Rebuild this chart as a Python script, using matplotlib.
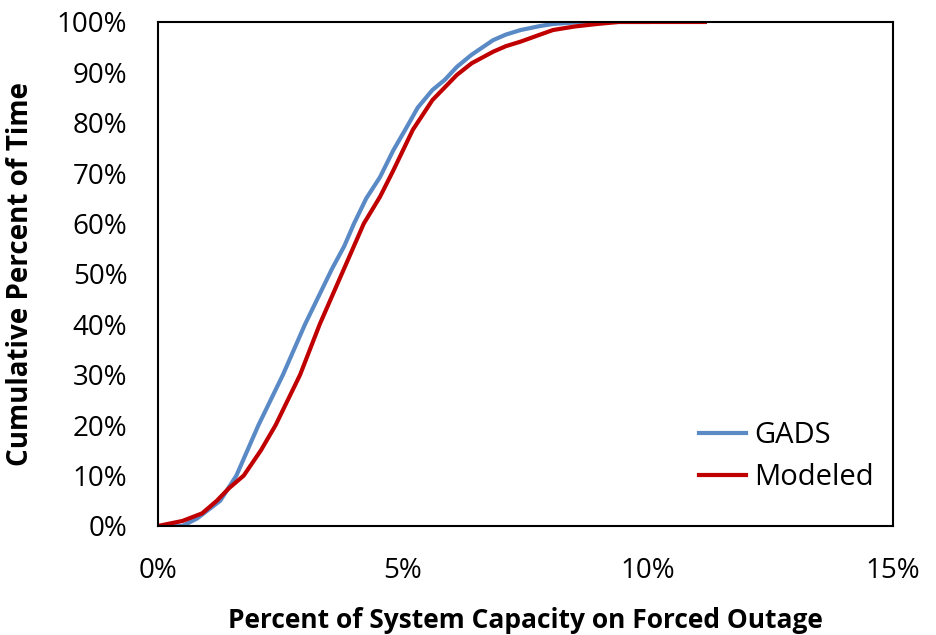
from matplotlib import pyplot as plt
from matplotlib.ticker import FuncFormatter

# GADS curve (percent of capacity out, cumulative percent of time)
gads_x = [0.0, 0.5, 0.8, 1.0, 1.27, 1.6, 2.05, 2.55, 3.0, 3.2, 3.55, 3.8, 4.0, 4.25,
          4.53, 4.8, 5.08, 5.3, 5.6, 5.85, 6.1, 6.4, 6.84, 7.1, 7.4, 7.8, 8.06, 8.5, 8.96, 10.0]
gads_y = [0.0, 0.0, 1.5, 3.0, 5.0, 10.0, 20.0, 30.0, 40.0, 44.0, 51.0, 55.5, 60.0, 65.0,
          69.2, 74.5, 79.2, 83.0, 86.5, 88.5, 91.1, 93.5, 96.4, 97.5, 98.4, 99.2, 99.6, 99.9, 100.0, 100.0]

# Modeled curve
model_x = [0.0, 0.5, 0.9, 1.2, 1.45, 1.75, 2.1, 2.4, 2.9, 3.3, 3.75, 4.2, 4.53, 4.8,
           5.2, 5.6, 6.1, 6.4, 6.84, 7.1, 7.4, 7.8, 8.06, 8.5, 8.96, 9.4, 10.0, 11.16]
model_y = [0.0, 1.0, 2.5, 5.0, 7.5, 10.0, 15.0, 20.0, 30.0, 40.0, 50.0, 60.0, 65.3, 70.5,
           78.6, 84.5, 89.5, 91.8, 94.1, 95.2, 96.1, 97.5, 98.4, 99.1, 99.6, 100.0, 100.0, 100.0]

xticks = [0, 5, 10, 15]
yticks = list(range(0, 101, 10))

plt.rcParams['font.family'] = ['Open Sans', 'DejaVu Sans']

fig = plt.figure(figsize=(9.37, 6.35), dpi=100)
ax = fig.add_axes([0.1686, 0.1717, 0.7845, 0.7937])

ax.plot(gads_x, gads_y, color='#5A8AC6', lw=3, label='GADS')
ax.plot(model_x, model_y, color='#C00000', lw=3, label='Modeled')

ax.set_xlim(0, 15)
ax.set_ylim(0, 100)
ax.set_xticks(xticks)
ax.set_yticks(yticks)
ax.xaxis.set_major_formatter(FuncFormatter(lambda v, p: '%d%%' % v))
ax.yaxis.set_major_formatter(FuncFormatter(lambda v, p: '%d%%' % v))
ax.tick_params(length=0, labelsize=20)
ax.tick_params(axis='y', pad=22)
ax.tick_params(axis='x', pad=22)
for s in ax.spines.values():
    s.set_linewidth(1.5)
    s.set_color('black')

ax.set_xlabel('Percent of System Capacity on Forced Outage', fontsize=19, fontweight='bold', labelpad=16)
ax.set_ylabel('Cumulative Percent of Time', fontsize=20, fontweight='bold', labelpad=16)

ax.legend(loc='lower right', frameon=False, fontsize=21, handlelength=1.6, handletextpad=0.3,
          labelspacing=0.45, bbox_to_anchor=(1.01, 0.015))

fig.savefig('out.png', dpi=100)
